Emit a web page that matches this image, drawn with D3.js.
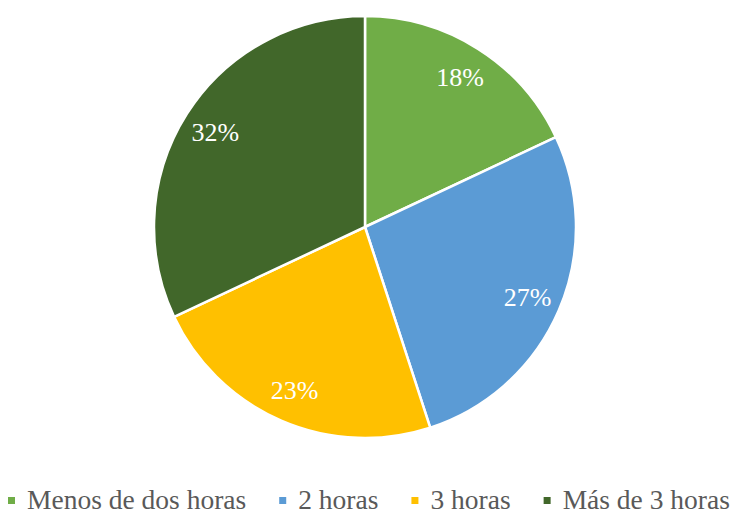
<!DOCTYPE html>
<html>
<head>
<meta charset="utf-8">
<script src="https://cdn.jsdelivr.net/npm/d3@7"></script>
<style>
  html, body { margin: 0; padding: 0; background: #ffffff; }
  svg { display: block; }
</style>
</head>
<body>
<svg id="chart" width="731" height="515"></svg>
<script>
// Tiempo dedicado: share of respondents per category
const categories = ["Menos de dos horas", "2 horas", "3 horas", "Más de 3 horas"];
const values = [18, 27, 23, 32];
const colors = ["#70AD47", "#5B9BD5", "#FFC000", "#41672A"];

const width = 731, height = 515;
const cx = 365, cy = 227, radius = 211;

const svg = d3.select("#chart");
const data = categories.map((c, i) => ({ category: c, value: values[i], color: colors[i] }));

const pie = d3.pie().value(d => d.value).sort(null);
const arcs = pie(data);

const arc = d3.arc().innerRadius(0).outerRadius(radius);
const labelArc = d3.arc().innerRadius(radius * 0.84).outerRadius(radius * 0.84);

const g = svg.append("g").attr("transform", `translate(${cx},${cy})`);

g.selectAll("path.slice")
  .data(arcs)
  .join("path")
  .attr("class", "slice")
  .attr("d", arc)
  .attr("fill", d => d.data.color)
  .attr("stroke", "#ffffff")
  .attr("stroke-width", 2.5)
  .attr("stroke-linejoin", "round");

g.selectAll("text.pct")
  .data(arcs)
  .join("text")
  .attr("class", "pct")
  .attr("transform", d => `translate(${labelArc.centroid(d)})`)
  .attr("text-anchor", "middle")
  .attr("dy", "0.35em")
  .attr("fill", "#ffffff")
  .style("font-family", "'Liberation Serif', 'Times New Roman', serif")
  .style("font-size", "26px")
  .text(d => d.data.value + "%");

// Legend along the bottom edge
const legend = svg.append("g").attr("transform", "translate(0,509)");
const legendFont = "27.5px 'Liberation Serif', 'Times New Roman', serif";
const markerSize = 7, markerGap = 12, itemGap = 33;

let x = 8;
data.forEach(d => {
  const item = legend.append("g").attr("transform", `translate(${x},0)`);
  item.append("rect")
    .attr("x", 0)
    .attr("y", -12)
    .attr("width", markerSize)
    .attr("height", markerSize)
    .attr("fill", d.color);
  const t = item.append("text")
    .attr("x", markerSize + markerGap)
    .attr("y", 0)
    .attr("fill", "#595959")
    .style("font", legendFont)
    .text(d.category);
  const w = t.node().getComputedTextLength();
  x += markerSize + markerGap + w + itemGap;
});
</script>
</body>
</html>
